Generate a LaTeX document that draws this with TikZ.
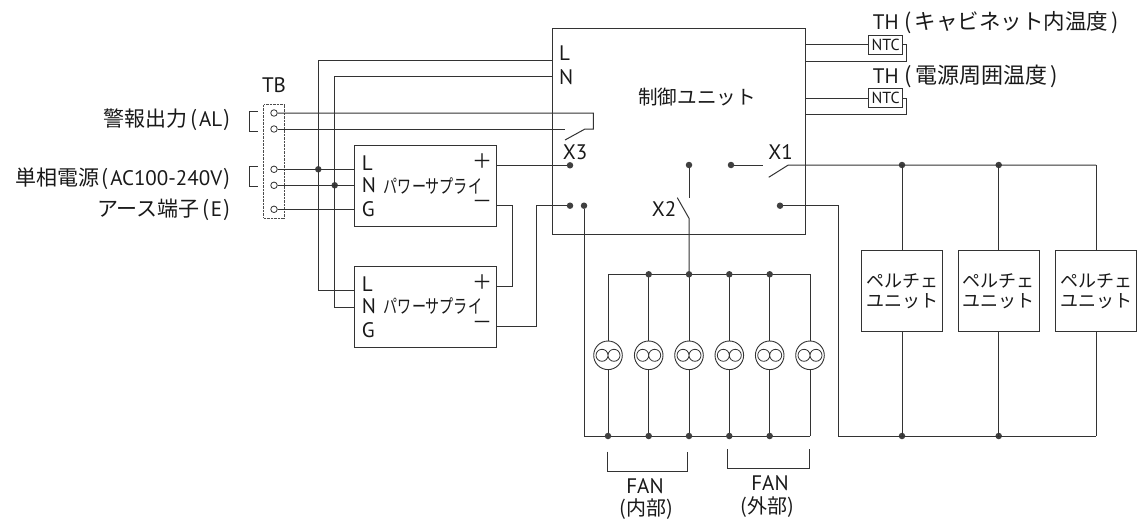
\documentclass[tikz,border=0pt]{standalone}
\usepackage{fontspec}
\setmainfont{PT Sans}
\newfontfamily\jpfont{Noto Sans CJK JP}
\newfontfamily\jpnarrow[FakeStretch=.74]{Noto Sans CJK JP}
\newcommand{\jp}[1]{{\jpfont #1}}
\newcommand{\opn}{\hspace{2.5pt}\jp{(}\hspace{1.5pt}}
\newcommand{\cls}{\hspace{1.5pt}\jp{)}}
\tikzset{
  wire/.style={black!80, line width=1pt},
  box/.style={draw=black!80, line width=1pt, inner sep=0pt},
  dot/.style={circle, fill=black!75, inner sep=0pt, minimum size=6.5pt},
  term/.style={circle, draw=black!80, fill=white, line width=.8pt, inner sep=0pt, minimum size=6.5pt},
  fan/.style={circle, draw=black!80, fill=white, line width=.9pt, inner sep=0pt, minimum size=28.6pt},
  txt/.style={text=black!90, inner sep=0pt, font=\fontsize{21}{21}\selectfont},
  sign/.style={txt, font=\jpfont\fontsize{20}{20}\selectfont},
}
\begin{document}
\begin{tikzpicture}[x=1pt, y=-1pt]
\useasboundingbox (0,0) rectangle (1142,519);
% boxes
\node[box, minimum width=252.3pt, minimum height=205pt] (ctrl) at (678.9,131.5) {};
\node[box, minimum width=141.6pt, minimum height=80.7pt] (psua) at (425.5,185.7) {};
\node[box, minimum width=141.6pt, minimum height=80.3pt] (psub) at (425.5,306.9) {};
\node[box, draw=black!70, dash pattern=on .9pt off .5pt, minimum width=20.3pt, minimum height=113.3pt] (tb) at (273.9,161.4) {};
% terminal block
\foreach \y/\n in {113/1,129/2,169.3/3,185.3/4,209.3/5} {
 \node[term] (tb\n) at (274,\y) {};
}
\node[txt] (tbname) at (274,84.7) {TB};
\node[txt, anchor=east] (alarm) at (231,120) {\jp{警報出力}\opn AL\cls};
\node[txt, anchor=east] (power) at (231,178.3) {\jp{単相電源}\opn AC100-240V\cls};
\node[txt, anchor=east] (earth) at (231,210) {\jp{アース端子}\opn E\cls};
\draw[wire] (257.7,111.7) -| (249.3,131) -- (257.7,131);
\draw[wire] (257.7,166.7) -| (249.3,186) -- (257.7,186);
% supply wiring
\node[dot] (jl) at (318.3,169.3) {};
\node[dot] (jn) at (334.7,185.3) {};
\coordinate (ltop) at (318.3,60.7);
\coordinate (ntop) at (334.7,76.7);
\draw[wire] (tb3) -- (tb3 -| psua.west);
\draw[wire] (tb4) -- (tb4 -| psua.west);
\draw[wire] (tb5) -- (tb5 -| psua.west);
\draw[wire] (ctrl.west |- ltop) -- (ltop) -- (318.3,290.7) -- (psub.west |- 0,290.7);
\draw[wire] (ctrl.west |- ntop) -- (ntop) -- (334.7,307) -- (psub.west |- 0,307);
% alarm contact
\coordinate (xa) at (585,129);
\coordinate (xb) at (565,140);
\draw[wire] (tb1) -- (593.3,113) -- (593.3,129) -- (xa) -- (xb);
\draw[wire] (tb2) -- (565,129);
% dc outputs
\node[dot] (dcp) at (570,165.3) {};
\node[dot] (dcn) at (570,205.7) {};
\node[dot] (fret) at (584,205.7) {};
\draw[wire] (psua.east |- dcp) -- (dcp);
\draw[wire] (psua.east |- dcn) -- (512.3,205.7) -- (512.3,286.3) -- (psub.east |- 0,286.3);
\draw[wire] (psub.east |- 0,326.7) -- (536.3,326.7) -- (536.3,205.7) -- (dcn);
\foreach \y/\t/\n in {162.7/L/l,185/N/n,208.7/G/g} {
 \node[txt, anchor=west] (pa\n) at (361.7,\y) {\t};
 \node[txt, anchor=west] (pb\n) at (361.7,\y+121.2) {\t};
}
\node[sign] (pap) at (482,161) {＋};
\node[sign] (pam) at (482,204) {－};
\node[sign] (pbp) at (482,281.7) {＋};
\node[sign] (pbm) at (482,325) {－};
\node[txt] (pan) at (433,186) {\jpnarrow\fontsize{19}{19}\selectfont パワーサプライ};
\node[txt] (pbn) at (433,306) {\jpnarrow\fontsize{19}{19}\selectfont パワーサプライ};
% control unit
\node[txt, anchor=west] (cl) at (559,53) {L};
\node[txt, anchor=west] (cn) at (559,77) {N};
\node[txt, font=\fontsize{19.6}{20}\selectfont] (cname) at (697,96.7) {\jp{制御ユニット}};
\node[txt] (x3) at (575,152) {X3};
\node[txt] (x1) at (780.5,152) {X1};
\node[txt] (x2) at (664,209) {X2};
% sensors
\foreach \y/\n in {45/a,98/b} {
 \node[box, minimum width=34pt, minimum height=18.4pt] (ntc\n) at (885.7,\y) {};
 \node[txt, font=\fontsize{16}{16}\selectfont] (ntl\n) at (ntc\n) {NTC};
 \draw[wire] (ctrl.east |- ntc\n) -- (ntc\n.west);
 \draw[wire] (ntc\n.east) -- (906,\y) -- (906,\y+16.3) -- (ctrl.east |- 0,\y+16.3);
}
\node[txt, anchor=west] (tha) at (872.7,22.7) {TH\hspace{6pt}\jp{\fontsize{21.5}{21}\selectfont(\hspace{3pt}キャビネット内温度\hspace{3pt})}};
\node[txt, anchor=west] (thb) at (872.7,76) {TH\hspace{6pt}\jp{\fontsize{22}{21}\selectfont(\hspace{3pt}電源周囲温度\hspace{3pt})}};
% peltier units
\node[dot] (x1in) at (731,165) {};
\node[dot] (pret) at (780,205.7) {};
\node[dot] (pa) at (902,165) {};
\node[dot] (pb) at (998.7,165) {};
\node[dot] (qa) at (902,436) {};
\node[dot] (qb) at (998.7,436) {};
\foreach \x/\n in {902/1,998.7/2,1096/3} {
 \node[box, txt, align=center, minimum width=81pt, minimum height=81pt, font=\jpfont\fontsize{18}{20}\selectfont] (pelt\n) at (\x,290.8) {ペルチェ\\ユニット};
 \draw[wire] (pelt\n) -- (\x,165);
 \draw[wire] (pelt\n) -- (\x,436);
}
\draw[wire] (x1in) -- (763.3,165);
\draw[wire] (768.7,177.3) -- (788.3,165) -- (1096,165);
\draw[wire] (pret) -- (838.3,205.7) -- (838.3,436) -- (1096,436);
% fans
\node[dot] (x2in) at (689,165) {};
\draw[wire] (x2in) -- (689,197.7);
\draw[wire] (677.3,197.7) -- (689,218.3) -- (689,274.3);
\draw[wire] (608,274.3) -- (810,274.3);
\draw[wire] (fret) -- (584,436) -- (810,436);
\foreach \x/\n in {608/1,648.7/2,689/3,729.3/4,769.7/5,810/6} {
 \node[fan] (fan\n) at (\x,355.3) {};
 \draw[black!80, line width=.8pt] ({\x-6},355.3) circle (6pt) ({\x+6},355.3) circle (6pt);
 \draw[wire] (fan\n) -- (\x,274.3);
 \draw[wire] (fan\n) -- (\x,436);
}
\foreach \x/\n in {648.7/2,689/3,729.3/4,769.7/5} {
 \node[dot] (ftop\n) at (\x,274.3) {};
}
\foreach \x/\n in {608/1,648.7/2,689/3,729.3/4,769.7/5} {
 \node[dot] (fbot\n) at (\x,436) {};
}
\draw[wire] (607,451.7) |- (687.7,471) -- (687.7,451.7);
\draw[wire] (727.7,449.3) |- (809.3,468.7) -- (809.3,449.3);
\node[txt] (fina) at (645,486) {FAN};
\node[txt, font=\fontsize{20}{20}\selectfont] (finb) at (646,509) {\jp{(内部)}};
\node[txt] (fouta) at (770,483) {FAN};
\node[txt, font=\fontsize{20}{20}\selectfont] (foutb) at (767,506.7) {\jp{(外部)}};
\end{tikzpicture}
\end{document}
